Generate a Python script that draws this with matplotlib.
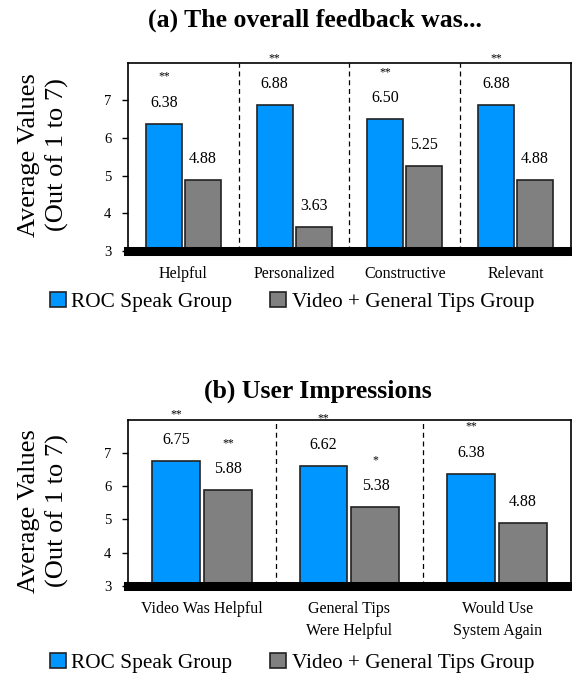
import numpy as np
import matplotlib.pyplot as plt
from matplotlib.patches import Patch

plt.rcParams['font.family'] = ['Liberation Serif', 'DejaVu Serif']

# Panel (a): overall feedback ratings
feedback_cats = ["Helpful", "Personalized", "Constructive", "Relevant"]
feedback_roc = [6.38, 6.88, 6.50, 6.88]
feedback_video = [4.88, 3.63, 5.25, 4.88]
feedback_roc_sig = ["**", "**", "**", "**"]
feedback_video_sig = ["", "", "", ""]

# Panel (b): user impressions
impress_cats = ["Video Was Helpful", "General Tips\nWere Helpful", "Would Use\nSystem Again"]
impress_roc = [6.75, 6.62, 6.38]
impress_video = [5.88, 5.38, 4.88]
impress_roc_sig = ["**", "**", "**"]
impress_video_sig = ["**", "*", ""]

BLUE = "#0096ff"
GRAY = "#808080"
W, H = 572, 675


def draw_panel(ax, cats, roc, video, roc_sig, video_sig):
    x = np.arange(len(cats))
    w = 0.325
    off = 0.176
    b1 = ax.bar(x - off, roc, w, bottom=0, color=BLUE, edgecolor="#222222", linewidth=1.2, zorder=2)
    b2 = ax.bar(x + off, video, w, bottom=0, color=GRAY, edgecolor="#222222", linewidth=1.2, zorder=2)
    for bars, vals, sig in ((b1, roc, roc_sig), (b2, video, video_sig)):
        for bar, v, s in zip(bars, vals, sig):
            cx = bar.get_x() + bar.get_width() / 2
            ax.annotate(f"{v:.2f}", (cx, v), xytext=(0, 21), textcoords="offset pixels",
                        ha="center", va="center", fontsize=11.5, annotation_clip=False)
            if s:
                ax.annotate(s, (cx, v), xytext=(0, 47), textcoords="offset pixels",
                            ha="center", va="center", fontsize=8.5, annotation_clip=False)
    # dashed separators between groups
    for i in range(len(cats) - 1):
        ax.axvline(i + 0.5, color="black", linestyle=(0, (4, 3)), linewidth=0.9, zorder=1)
    ax.set_xlim(-0.5, len(cats) - 0.5)
    ax.set_ylim(3, 8)
    ax.set_yticks([3, 4, 5, 6, 7])
    ax.set_xticks(x)
    ax.set_xticklabels(cats, fontsize=11.5, linespacing=1.45)
    ax.tick_params(axis="x", length=0, pad=11)
    ax.tick_params(axis="y", length=4, width=1, labelsize=10.5, pad=8)
    for sp in ax.spines.values():
        sp.set_linewidth(1.2)
    ax.spines["bottom"].set_linewidth(6.5)
    ax.spines["bottom"].set_zorder(3)


fig = plt.figure(figsize=(W / 100, H / 100), dpi=100)

ax1 = fig.add_axes([0.224, 0.628, 0.774, 0.279])
draw_panel(ax1, feedback_cats, feedback_roc, feedback_video, feedback_roc_sig, feedback_video_sig)
fig.text(315 / W, 1 - 20 / H, "(a) The overall feedback was...", ha="center", va="center",
         fontsize=18.5, fontweight="bold")

ax2 = fig.add_axes([0.224, 0.132, 0.774, 0.246])
draw_panel(ax2, impress_cats, impress_roc, impress_video, impress_roc_sig, impress_video_sig)
fig.text(318 / W, 1 - 391 / H, "(b) User Impressions", ha="center", va="center",
         fontsize=18.5, fontweight="bold")

# y-axis titles
for yc in (155, 511):
    fig.text(43.5 / W, 1 - yc / H, "Average Values\n(Out of 1 to 7)", rotation=90,
             ha="center", va="center", fontsize=19, linespacing=1.35, multialignment="center")

handles = [Patch(facecolor=BLUE, edgecolor="#222222", linewidth=1.2),
           Patch(facecolor=GRAY, edgecolor="#222222", linewidth=1.2)]
labels = ["ROC Speak Group", "Video + General Tips Group"]
for y in (1 - 302 / H, 1 - 663 / H):
    fig.legend(handles, labels, loc="center", bbox_to_anchor=(292 / W, y), ncol=2, frameon=False,
               fontsize=15.3, handlelength=0.75, handleheight=0.75, handletextpad=0.25,
               columnspacing=1.8, borderpad=0)

fig.savefig("out.png", dpi=100)
